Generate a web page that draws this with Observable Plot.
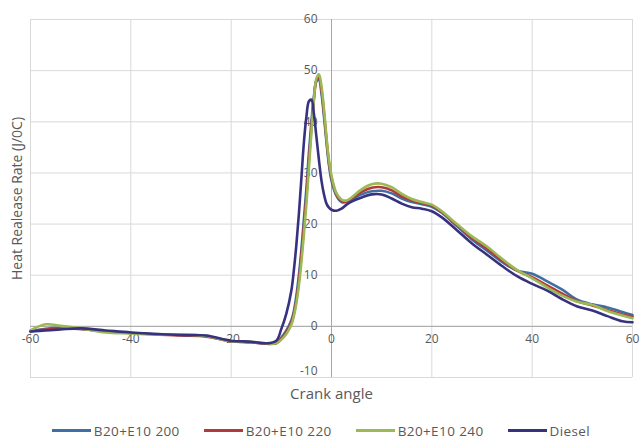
<!DOCTYPE html>
<html>
<head>
<meta charset="utf-8">
<script src="https://cdn.jsdelivr.net/npm/d3@7"></script>
<script src="https://cdn.jsdelivr.net/npm/@observablehq/plot@0.6"></script>
<style>
  body { margin: 0; background: #fff; font-family: "Open Sans", sans-serif; }
  #legend { display: flex; justify-content: center; align-items: center; height: 33px; padding-top: 8px; box-sizing: border-box; font-size: 13.5px; letter-spacing: 0.4px; color: #595959; }
  .item { display: flex; align-items: center; margin: 0 12px; }
  .sw { width: 39px; height: 3px; margin-right: 3px; }
</style>
</head>
<body>
<div id="chart"></div>
<div id="legend"></div>
<script>
const angles = [-60,-57,-54,-50,-45,-40,-35,-30,-25,-20,-16,-13,-11,-10,-9,-8,-7.5,-7,-6.5,-6,-5.5,-5,-4.5,-4,-3.5,-3,-2.5,-2,-1.5,-1,-0.5,0,1,2,3,4,6,8,10,12,14,16,18,20,22,25,28,31,34,37,40,43,46,49,52,55,58,60];

const b20e10_200 = [-1.0,-0.5,-0.3,-0.5,-1.0,-1.3,-1.5,-1.7,-1.9,-2.9,-3.1,-3.4,-3.2,-2.2,-0.8,1.2,3,6,10,15,21,27,34,40,45,48,48.2,45.5,41,36,31.5,28.5,25.5,24.3,24.3,24.8,25.8,26.4,26.5,26.0,25.0,24.3,23.9,23.4,22.2,19.6,17.0,14.8,12.6,10.9,10.3,8.8,7.2,5.2,4.3,3.7,2.8,2.2];

const b20e10_220 = [-0.9,-0.6,-0.4,-0.5,-1.0,-1.3,-1.6,-1.8,-2.0,-2.9,-3.1,-3.4,-3.3,-2.4,-1.1,0.8,2.5,5.2,9,14,19.5,25.5,32.5,39,44.5,48,48.6,46.2,41.8,36.5,32,29,25.8,24.5,24.4,25.0,26.3,27.1,27.2,26.6,25.4,24.6,24.1,23.6,22.3,19.8,17.3,15.2,12.9,10.9,9.6,8.0,6.4,4.9,4.1,3.2,2.3,1.9];

const b20e10_240 = [-0.8,0.4,0.1,-0.4,-1.2,-1.4,-1.6,-1.6,-1.9,-2.9,-3.0,-3.3,-3.3,-2.6,-1.5,0.3,2,4.5,8,12.5,18,24,31,38,44.5,48.5,49.3,47,42.5,37,32.5,29.5,26,24.8,24.6,25.2,26.8,27.8,27.9,27.2,25.9,24.9,24.3,23.8,22.5,20.0,17.6,15.6,13.2,11.0,9.4,7.6,6.0,4.8,4.2,3.0,2.1,1.6];

const diesel = [-1.0,-0.8,-0.6,-0.4,-0.8,-1.2,-1.5,-1.7,-1.8,-2.8,-3.0,-3.3,-2.8,-0.5,2.5,7,11,16,22,29,36,41,44,44.3,41.5,37,32.5,28.5,25.8,24,23.2,22.8,22.6,23.0,23.8,24.4,25.2,25.8,25.8,25.0,24.0,23.3,23.0,22.5,21.3,18.8,16.2,14.0,11.8,9.8,8.3,7.0,5.3,3.9,3.1,2.0,1.0,0.8];

const seriesNames = ["B20+E10 200", "B20+E10 220", "B20+E10 240", "Diesel"];
const seriesColors = ["#3f6fa3", "#b33a3a", "#9bb955", "#37327f"];
const seriesValues = [b20e10_200, b20e10_220, b20e10_240, diesel];

const xTicks = [-60, -40, -20, 0, 20, 40, 60];
const yTicks = [-10, 0, 10, 20, 30, 40, 50, 60];

const rows = [];
seriesNames.forEach((name, i) => {
  angles.forEach((a, j) => rows.push({series: name, angle: a, value: seriesValues[i][j]}));
});

const chart = Plot.plot({
  width: 642,
  height: 410,
  marginTop: 19,
  marginBottom: 33,
  marginLeft: 30,
  marginRight: 10,
  style: {fontFamily: "Open Sans, sans-serif", color: "#595959"},
  x: {domain: [-60, 60], axis: null},
  y: {domain: [-10, 60], axis: null},
  color: {domain: seriesNames, range: seriesColors},
  marks: [
    Plot.ruleX(xTicks, {stroke: "#d9d9d9", strokeWidth: 1}),
    Plot.ruleY(yTicks, {stroke: "#d9d9d9", strokeWidth: 1}),
    Plot.ruleX([0], {stroke: "#a6a6a6", strokeWidth: 1}),
    Plot.ruleY([0], {stroke: "#a6a6a6", strokeWidth: 1}),
    Plot.text(yTicks.filter(d => d > -10), {x: () => 0, y: d => d, text: d => String(d), textAnchor: "end", dx: -14, fontSize: 12, fill: "#595959"}),
    Plot.text(yTicks.filter(d => d === -10), {x: () => 0, y: d => d, text: d => String(d), textAnchor: "end", dx: -14, dy: -6, fontSize: 12, fill: "#595959"}),
    Plot.text(xTicks, {x: d => d, y: () => 0, text: d => String(d), dy: 13, fontSize: 12, fill: "#595959"}),
    Plot.line(rows, {x: "angle", y: "value", z: "series", stroke: "series", strokeWidth: 2.6, curve: "catmull-rom"}),
    Plot.text(["Crank angle"], {frameAnchor: "bottom", lineAnchor: "middle", dy: 17, fontSize: 15, fill: "#595959"}),
    Plot.text(["Heat Realease Rate (J/0C)"], {frameAnchor: "left", textAnchor: "middle", lineAnchor: "middle", dx: -13, rotate: -90, fontSize: 14, fill: "#595959"})
  ]
});
document.getElementById("chart").appendChild(chart);

const legend = document.getElementById("legend");
seriesNames.forEach((name, i) => {
  const item = document.createElement("div");
  item.className = "item";
  const sw = document.createElement("div");
  sw.className = "sw";
  sw.style.background = seriesColors[i];
  const label = document.createElement("span");
  label.textContent = name;
  item.appendChild(sw);
  item.appendChild(label);
  legend.appendChild(item);
});
</script>
</body>
</html>
